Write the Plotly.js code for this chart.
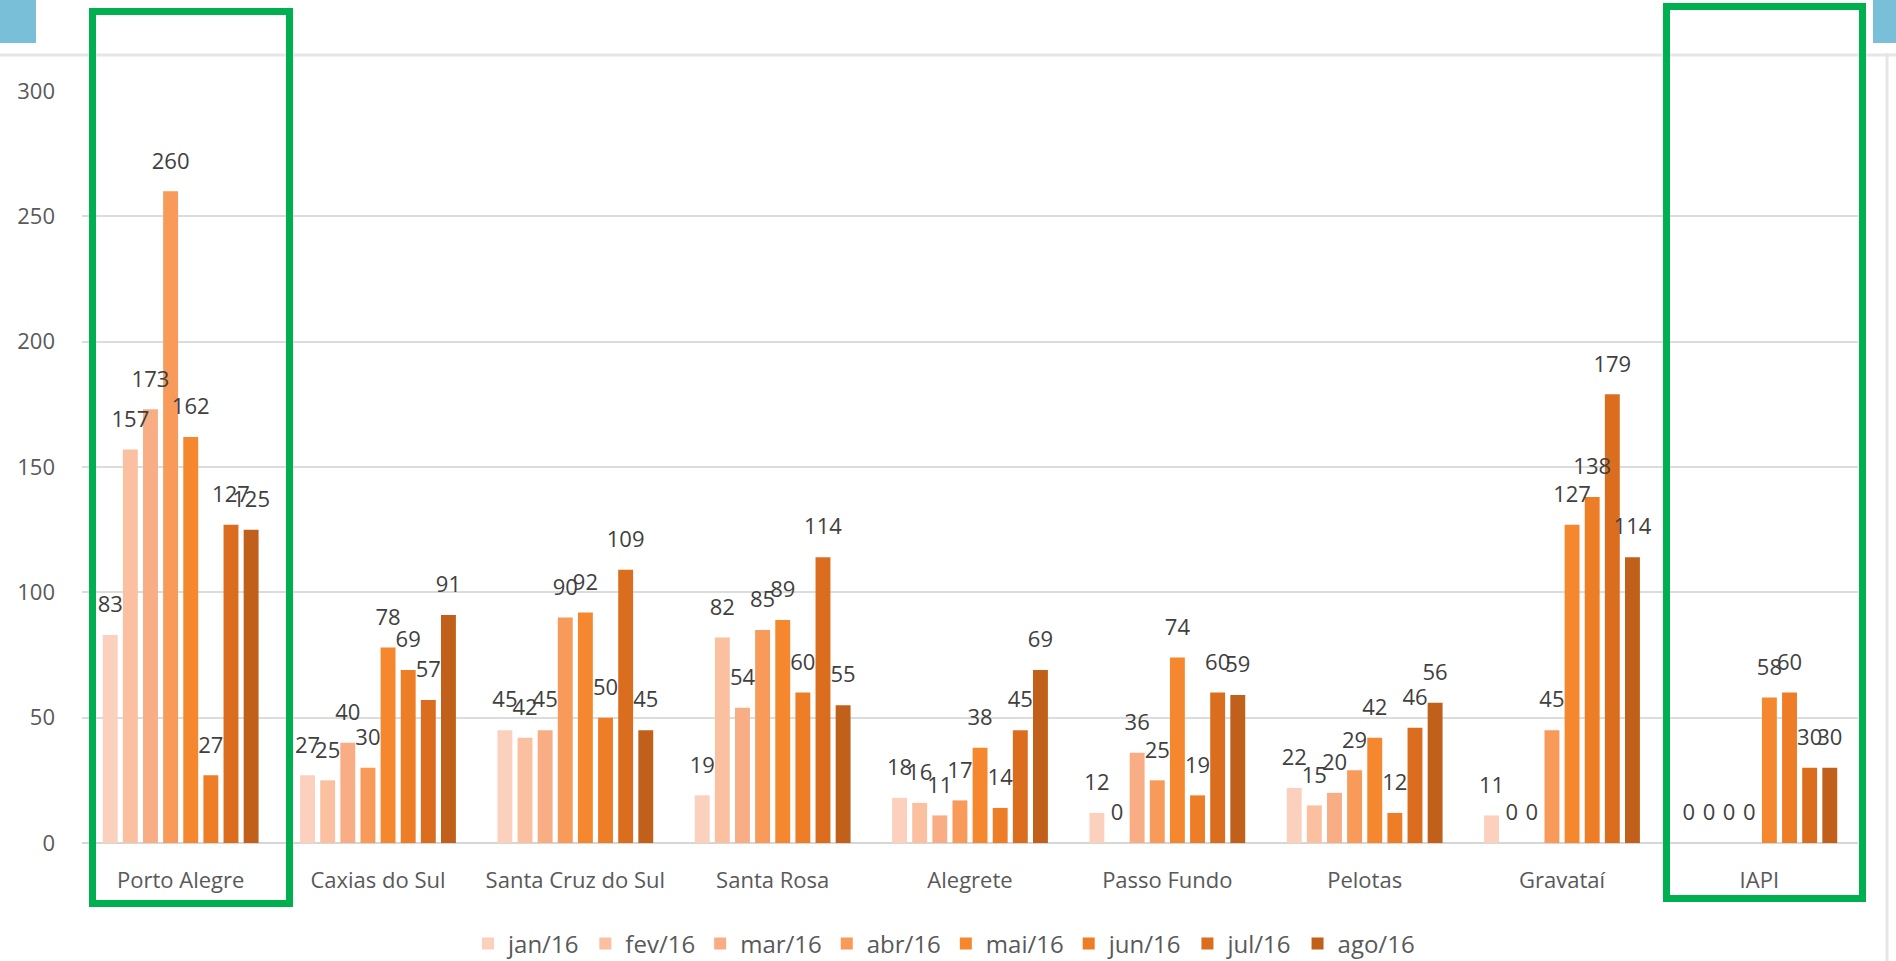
<!DOCTYPE html>
<html>
<head>
<meta charset="utf-8">
<script src="https://cdn.plot.ly/plotly-3.0.1.min.js"></script>
<style>
  html, body { margin: 0; padding: 0; background: #ffffff; }
  #chart { width: 1896px; height: 961px; }
</style>
</head>
<body>
<div id="chart"></div>
<script>
// ---- Data ----
const categories = ['Porto Alegre', 'Caxias do Sul', 'Santa Cruz do Sul', 'Santa Rosa', 'Alegrete', 'Passo Fundo', 'Pelotas', 'Gravataí', 'IAPI'];
const months = ['jan/16', 'fev/16', 'mar/16', 'abr/16', 'mai/16', 'jun/16', 'jul/16', 'ago/16'];
const jan16 = [83, 27, 45, 19, 18, 12, 22, 11, 0];
const fev16 = [157, 25, 42, 82, 16, 0, 15, 0, 0];
const mar16 = [173, 40, 45, 54, 11, 36, 20, 0, 0];
const abr16 = [260, 30, 90, 85, 17, 25, 29, 45, 0];
const mai16 = [162, 78, 92, 89, 38, 74, 42, 127, 58];
const jun16 = [27, 69, 50, 60, 14, 19, 12, 138, 60];
const jul16 = [127, 57, 109, 114, 45, 60, 46, 179, 30];
const ago16 = [125, 91, 45, 55, 69, 59, 56, 114, 30];
const yTicks = [0, 50, 100, 150, 200, 250, 300];

const seriesValues = [jan16, fev16, mar16, abr16, mai16, jun16, jul16, ago16];
const seriesColors = ['#fbd0bd', '#fbc0a0', '#f8ad84', '#f79a5a', '#f5882e', '#ee7d27', '#db6e1e', '#c0601a'];

// ---- Layout geometry ----
const W = 1896, H = 961;
const M = { l: 82, r: 38, t: 91, b: 118 };
const PW = W - M.l - M.r, PH = H - M.t - M.b;
const px = x => (x - M.l) / PW;
const py = y => (H - M.b - y) / PH;

const FONT = '"Open Sans", "Liberation Sans", sans-serif';
const GAP = 0.184;

const barTraces = months.map((m, i) => ({
  type: 'bar',
  name: m,
  x: categories,
  y: seriesValues[i],
  offsetgroup: m,
  marker: { color: seriesColors[i], line: { width: 0 } },
  hoverinfo: 'x+y+name'
}));

// data labels, placed above each bar (Excel-style spacing)
const labelTraces = months.map((m, i) => ({
  type: 'scatter',
  mode: 'markers+text',
  name: m,
  showlegend: false,
  x: categories,
  y: seriesValues[i],
  offsetgroup: m,
  marker: { size: 26, opacity: 0, color: seriesColors[i] },
  text: seriesValues[i].map(String),
  textposition: 'top center',
  cliponaxis: false,
  textfont: { family: FONT, size: 22, color: '#404040' },
  hoverinfo: 'skip'
}));

const shapes = [
  { type: 'line', xref: 'paper', yref: 'paper', x0: px(0), x1: px(W), y0: py(55), y1: py(55),
    line: { color: '#e6e6e6', width: 3 }, layer: 'below' },
  { type: 'line', xref: 'paper', yref: 'paper', x0: px(1887), x1: px(1887), y0: py(53), y1: py(H),
    line: { color: '#e6e6e6', width: 3 }, layer: 'below' },
  { type: 'rect', xref: 'paper', yref: 'paper', x0: px(0), x1: px(36), y0: py(0), y1: py(43),
    fillcolor: '#79bfd7', line: { width: 0 } },
  { type: 'rect', xref: 'paper', yref: 'paper', x0: px(1873), x1: px(W), y0: py(0), y1: py(43),
    fillcolor: '#79bfd7', line: { width: 0 } },
  { type: 'rect', xref: 'paper', yref: 'paper', x0: px(92.5), x1: px(289.5), y0: py(11.5), y1: py(903.5),
    line: { color: '#00b050', width: 7 }, fillcolor: 'rgba(0,0,0,0)' },
  { type: 'rect', xref: 'paper', yref: 'paper', x0: px(1666.5), x1: px(1862.5), y0: py(6.5), y1: py(898.5),
    line: { color: '#00b050', width: 7 }, fillcolor: 'rgba(0,0,0,0)' }
];

const layout = {
  width: W, height: H,
  margin: Object.assign({ autoexpand: false }, M),
  paper_bgcolor: '#ffffff',
  plot_bgcolor: '#ffffff',
  barmode: 'group',
  bargap: GAP,
  bargroupgap: 0.26,
  scattermode: 'group',
  scattergap: GAP,
  showlegend: true,
  legend: {
    orientation: 'h',
    xref: 'container', yref: 'container',
    x: 944 / W, xanchor: 'center',
    y: (H - 944) / H, yanchor: 'middle',
    font: { family: FONT, size: 24, color: '#595959' },
    itemwidth: 30,
    bgcolor: 'rgba(0,0,0,0)'
  },
  xaxis: {
    type: 'category',
    showgrid: false,
    showline: false,
    zeroline: false,
    ticks: '',
    ticklabelstandoff: 22,
    tickfont: { family: FONT, size: 22, color: '#595959' },
    fixedrange: true
  },
  yaxis: {
    range: [0, 300],
    tickvals: yTicks,
    ticktext: yTicks.map(String),
    showgrid: true,
    gridcolor: '#dcdcdc',
    gridwidth: 2,
    zeroline: true,
    zerolinecolor: '#d6d6d6',
    zerolinewidth: 2,
    showline: false,
    ticks: '',
    ticklabelstandoff: 26,
    tickfont: { family: FONT, size: 22, color: '#595959' },
    fixedrange: true
  },
  shapes: shapes,
  font: { family: FONT, color: '#595959' }
};

Plotly.newPlot('chart', barTraces.concat(labelTraces), layout, { displayModeBar: false, staticPlot: true });
</script>
</body>
</html>
